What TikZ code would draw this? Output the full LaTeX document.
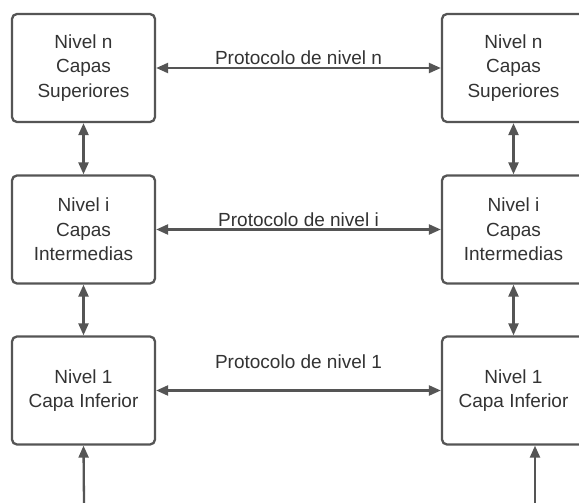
\documentclass[tikz,border=0pt]{standalone}
\usepackage{fontspec}
\setmainfont{Liberation Sans}
\usetikzlibrary{arrows.meta}
\definecolor{linec}{HTML}{555555}
\definecolor{textc}{HTML}{333333}
\begin{document}
\begin{tikzpicture}[x=1pt,y=-1pt,
  layer/.style={draw=linec, line width=2.3pt, rounded corners=5pt, fill=white,
    minimum width=143pt, minimum height=108pt, align=center, inner sep=0pt,
    text=textc, font=\fontsize{19}{24.5}\selectfont},
  conn/.style={draw=linec, line width=2.3pt, {Triangle[length=12pt,width=10pt]}-{Triangle[length=12pt,width=10pt]}},
  upconn/.style={draw=linec, line width=2.3pt, -{Triangle[length=12pt,width=10pt]}},
  lab/.style={text=textc, font=\fontsize{19}{24.5}\selectfont, inner sep=0pt}]
\useasboundingbox (0,0) rectangle (579,503);
\clip (0,0) rectangle (579,503);
\fill[white] (0,0) rectangle (579,503);
\node[layer] (ln) at (83.5,68) {Nivel n\\Capas\\Superiores};
\node[layer] (li) at (83.5,229.5) {Nivel i\\Capas\\Intermedias};
\node[layer] (l1) at (83.5,390.5) {Nivel 1\\Capa Inferior};
\node[layer] (rn) at (513.5,68) {Nivel n\\Capas\\Superiores};
\node[layer] (ri) at (513.5,229.5) {Nivel i\\Capas\\Intermedias};
\node[layer] (r1) at (513.5,390.5) {Nivel 1\\Capa Inferior};
\draw[conn] (ln.east) -- (rn.west);
\draw[conn] (li.east) -- (ri.west);
\draw[conn] (l1.east) -- (r1.west);
\node[lab] (pn) at (298.5,58) {Protocolo de nivel n};
\node[lab] (pi) at (298.5,220) {Protocolo de nivel i};
\node[lab] (p1) at (298.5,362) {Protocolo de nivel 1};
\draw[conn] (ln.south) -- (li.north);
\draw[conn] (li.south) -- (l1.north);
\draw[conn] (rn.south) -- (ri.north);
\draw[conn] (ri.south) -- (r1.north);
\coordinate (bl) at (84,503);
\coordinate (br) at (535,503);
\draw[upconn] (bl) -- (l1.south);
\draw[upconn] (br) -- (br |- r1.south);
\end{tikzpicture}
\end{document}
